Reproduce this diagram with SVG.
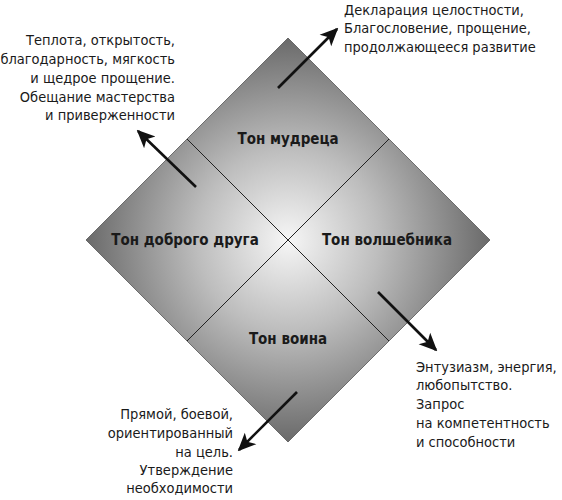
<svg xmlns="http://www.w3.org/2000/svg" width="562" height="500" viewBox="0 0 562 500">
<defs>
<radialGradient id="g" cx="288" cy="240" r="202" gradientUnits="userSpaceOnUse">
<stop offset="0" stop-color="#f6f6f6"/>
<stop offset="0.45" stop-color="#bdbdbd"/>
<stop offset="1" stop-color="#6a6a6a"/>
</radialGradient>
<marker id="ah" viewBox="0 0 10 10" refX="9" refY="5" markerWidth="7" markerHeight="7" orient="auto" markerUnits="strokeWidth">
<path d="M0,0.5 L10,5 L0,9.5 L2.5,5 z" fill="#111"/>
</marker>
<style>
.t{font-family:"DejaVu Sans Condensed","Liberation Sans",sans-serif;font-size:14.5px;fill:#1a1a1a}
.b{font-family:"DejaVu Sans Condensed","Liberation Sans",sans-serif;font-size:15px;font-weight:bold;fill:#1a1a1a;text-anchor:middle}
.r{text-anchor:end}
.a{stroke:#111;stroke-width:2.6;fill:none;marker-end:url(#ah)}
</style>
</defs>
<g id="diamond">
<polygon points="288,38 490,240 288,442 86,240" fill="url(#g)" stroke="#555" stroke-width="0.8"/>
<line x1="187" y1="139" x2="389" y2="341" stroke="#222" stroke-width="1"/>
<line x1="389" y1="139" x2="187" y2="341" stroke="#222" stroke-width="1"/>
</g>
<g id="sage"><text class="b" x="288" y="144">Тон мудреца</text></g>
<g id="friend"><text class="b" x="185" y="245">Тон доброго друга</text></g>
<g id="wizard"><text class="b" x="387" y="245">Тон волшебника</text></g>
<g id="warrior"><text class="b" x="288" y="344">Тон воина</text></g>
<g id="connectors">
<line class="a" x1="278" y1="88" x2="337" y2="29"/>
<line class="a" x1="196" y1="187" x2="138" y2="131"/>
<line class="a" x1="378" y1="292" x2="436" y2="350"/>
<line class="a" x1="297" y1="392" x2="239" y2="450"/>
</g>
<g id="note-tr">
<text class="t" x="344" y="15">Декларация целостности,</text>
<text class="t" x="344" y="33">Благословение, прощение,</text>
<text class="t" x="344" y="52">продолжающееся развитие</text>
</g>
<g id="note-tl">
<text class="t r" x="175" y="45">Теплота, открытость,</text>
<text class="t r" x="175" y="64">благодарность, мягкость</text>
<text class="t r" x="175" y="83">и щедрое прощение.</text>
<text class="t r" x="175" y="102">Обещание мастерства</text>
<text class="t r" x="175" y="120">и приверженности</text>
</g>
<g id="note-br">
<text class="t" x="416" y="372">Энтузиазм, энергия,</text>
<text class="t" x="416" y="390">любопытство.</text>
<text class="t" x="416" y="409">Запрос</text>
<text class="t" x="416" y="428">на компетентность</text>
<text class="t" x="416" y="447">и способности</text>
</g>
<g id="note-bl">
<text class="t r" x="233" y="419">Прямой, боевой,</text>
<text class="t r" x="233" y="438">ориентированный</text>
<text class="t r" x="233" y="457">на цель.</text>
<text class="t r" x="233" y="475">Утверждение</text>
<text class="t r" x="233" y="493">необходимости</text>
</g>
</svg>
